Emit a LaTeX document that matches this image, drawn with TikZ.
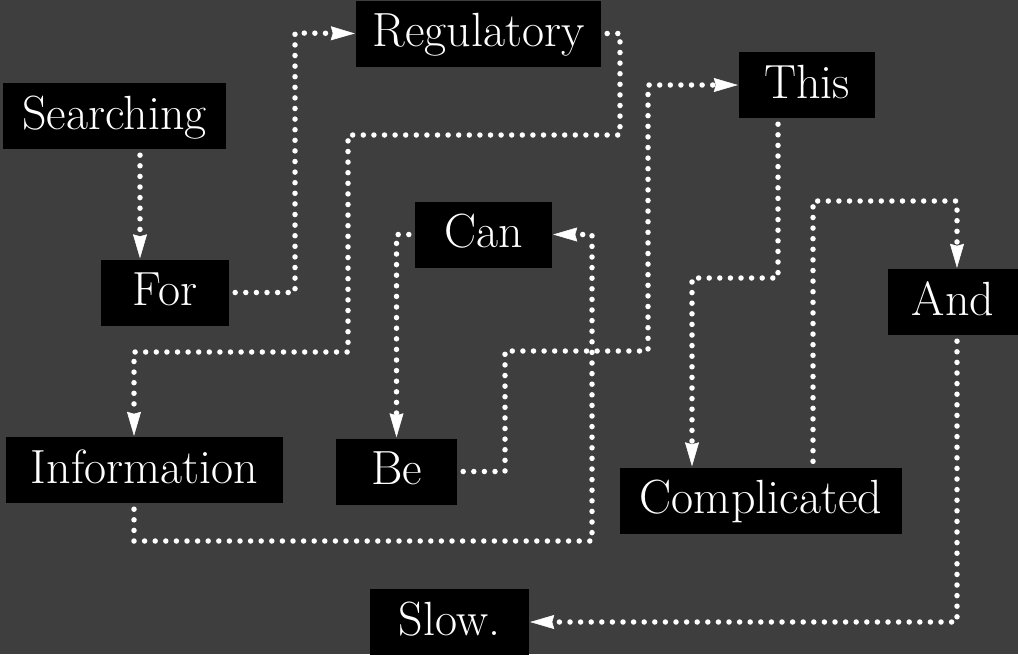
\documentclass[tikz,border=0pt]{standalone}
\usetikzlibrary{arrows.meta}
\definecolor{bggray}{RGB}{62,62,62}
\tikzset{
    wordbox/.style={fill=black,text=white,font=\fontsize{48}{48}\selectfont,
        minimum height=66pt,inner sep=0pt,text height=35pt,text depth=9pt},
    dotline/.style={white,line width=5.5pt,line cap=round,dash pattern=on 0pt off 10.6pt,
        shorten <=6pt,shorten >=1pt,->}
}
\begin{document}
\begin{tikzpicture}[>={Stealth[length=24pt,width=14pt,inset=2pt,line width=0.5pt]},x=1pt,y=-1pt]

                \useasboundingbox (0,0) rectangle (1018,654);
                \clip (0,0) rectangle (1018,654);
                \fill[fill=bggray] (0,0) rectangle (1018,654);

                \node[wordbox,minimum width=223pt] (srch) at(114.5,116) {Searching};
                \node[wordbox,minimum width=128pt] (for) at(165,292.5) {For};
                \node[wordbox,minimum width=245pt] (reg) at(478.5,33.5) {Regulatory};
                \node[wordbox,minimum width=136pt] (this) at(807,85) {This};
                \node[wordbox,minimum width=137pt] (can) at(483.5,234.5) {Can};
                \node[wordbox,minimum width=130pt] (and) at(953,302) {And};
                \node[wordbox,minimum width=277pt] (info) at(144.5,470) {Information};
                \node[wordbox,minimum width=121pt] (be) at(396.5,471.5) {Be};
                \node[wordbox,minimum width=282pt] (comp) at(761,500.5) {Complicated};
                \node[wordbox,minimum width=159pt] (slow) at(449.5,622) {Slow.};

                \draw[dotline] ([xshift=25.5pt]srch.south) -- ([xshift=-25pt]for.north);
                \draw[dotline] (for.east) -| (295,33) -- (reg.west);
                \draw[dotline] (reg.east) -| (620,135) -| (348,352) -| ([xshift=-10.5pt]info.north);
                \draw[dotline] ([xshift=-10.5pt]info.south) |- (592,541) |- (can.east);
                \draw[dotline] (can.west) -| (be.north);
                \draw[dotline] (be.east) -| (505,351) -| (648,85) -- (this.west);
                \draw[dotline] ([xshift=-29pt]this.south) |- (692,278) -- ([xshift=-69pt]comp.north);
                \draw[dotline] ([xshift=52pt]comp.north) |- (957,201) -- ([xshift=4pt]and.north);
                \draw[dotline] ([xshift=4pt]and.south) |- (slow.east);

            \end{tikzpicture}
\end{document}
